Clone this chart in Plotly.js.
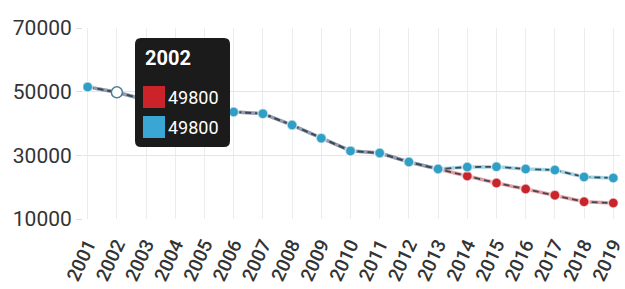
<!DOCTYPE html>
<html>
<head>
<meta charset="utf-8">
<script src="https://cdn.plot.ly/plotly-3.0.1.min.js"></script>
<style>html,body{margin:0;padding:0;background:#fff;overflow:hidden}#chart{width:625px;height:289px}</style>
</head>
<body>
<div id="chart"></div>
<script>
const years = [2001,2002,2003,2004,2005,2006,2007,2008,2009,2010,2011,2012,2013,2014,2015,2016,2017,2018,2019];
const redValues  = [51500,49800,47400,45600,44200,43600,43100,39500,35400,31400,30700,27900,25700,23500,21300,19400,17500,15400,15000];
const blueValues = [51500,49800,47400,45600,44200,43600,43100,39500,35400,31400,30700,27900,25700,26300,26400,25700,25400,23200,22900];
const yTicks = [10000,30000,50000,70000];
const hoverIndex = 1;
const tipTitle = String(years[hoverIndex]);
const tipRed = String(redValues[hoverIndex]);
const tipBlue = String(blueValues[hoverIndex]);

const RED = '#c8242c', BLUE = '#2f9fc6';
const W = 625, H = 289, L = 83, R = 5, T = 28, B = 70;
const pw = W - L - R, ph = H - T - B;
const px = x => (x - L) / pw;
const py = y => 1 - (y - T) / ph;

function seriesTraces(vals, color, name) {
  return [
    {x: years, y: vals, type: 'scatter', mode: 'lines', name: name, hoverinfo: 'skip',
     line: {color: color, width: 3.5}, opacity: 0.45, showlegend: false},
    {x: years, y: vals, type: 'scatter', mode: 'lines+markers', name: name, hoverinfo: 'skip',
     line: {color: '#3d4a52', width: 1.8, dash: '6px,4px'},
     marker: {color: color, size: 10, line: {color: 'rgba(255,255,255,0.6)', width: 1.5}}, showlegend: false}
  ];
}

const data = [
  ...seriesTraces(redValues, RED, 'red'),
  ...seriesTraces(blueValues, BLUE, 'blue'),
  {x: [years[hoverIndex]], y: [blueValues[hoverIndex]], type: 'scatter', mode: 'markers', hoverinfo: 'skip',
   marker: {color: '#ffffff', size: 11, line: {color: '#4a7f90', width: 1.5}}, showlegend: false}
];

const bx0 = 135, bx1 = 230, by0 = 38, by1 = 147, rr = 6;
function roundRectPath(x0, y0, x1, y1, r) {
  const X = v => px(v), Y = v => py(v);
  return `M ${X(x0 + r)} ${Y(y0)} L ${X(x1 - r)} ${Y(y0)} Q ${X(x1)} ${Y(y0)} ${X(x1)} ${Y(y0 + r)} ` +
         `L ${X(x1)} ${Y(y1 - r)} Q ${X(x1)} ${Y(y1)} ${X(x1 - r)} ${Y(y1)} ` +
         `L ${X(x0 + r)} ${Y(y1)} Q ${X(x0)} ${Y(y1)} ${X(x0)} ${Y(y1 - r)} ` +
         `L ${X(x0)} ${Y(y0 + r)} Q ${X(x0)} ${Y(y0)} ${X(x0 + r)} ${Y(y0)} Z`;
}

const layout = {
  width: W, height: H,
  margin: {l: L, r: R, t: T, b: B},
  paper_bgcolor: '#ffffff', plot_bgcolor: '#ffffff',
  font: {family: 'Roboto, sans-serif', color: '#333333'},
  xaxis: {
    range: [2000.84, 2019.23], tickmode: 'array', tickvals: years, ticktext: years.map(String),
    tickangle: -65, tickfont: {size: 19, color: '#333333', weight: 500}, ticklabelstandoff: 10,
    ticklabeloverflow: 'allow',
    showgrid: true, gridcolor: '#ececec', gridwidth: 1, zeroline: false, showline: false,
    ticks: '', fixedrange: true
  },
  yaxis: {
    range: [10000, 70000], tickmode: 'array', tickvals: yTicks, ticktext: yTicks.map(String),
    tickfont: {size: 21, color: '#333333'},
    showgrid: true, gridcolor: '#e6e6e6', gridwidth: 1, zeroline: false, showline: false,
    ticks: 'outside', ticklen: 6, tickcolor: '#dddddd', fixedrange: true
  },
  shapes: [
    {type: 'path', xref: 'paper', yref: 'paper', path: roundRectPath(bx0, by0, bx1, by1, rr),
     fillcolor: '#1b1b1b', line: {width: 0}, layer: 'above'},
    {type: 'rect', xref: 'paper', yref: 'paper', x0: px(143), x1: px(165), y0: py(108), y1: py(86),
     fillcolor: '#cc2229', line: {width: 0}, layer: 'above'},
    {type: 'rect', xref: 'paper', yref: 'paper', x0: px(143), x1: px(165), y0: py(138), y1: py(116),
     fillcolor: '#3aa6d4', line: {width: 0}, layer: 'above'}
  ],
  annotations: [
    {xref: 'paper', yref: 'paper', x: px(143), y: py(58), xanchor: 'left', yanchor: 'middle', showarrow: false,
     text: '<b>' + tipTitle + '</b>', font: {size: 20, color: '#ffffff', family: 'Roboto, sans-serif'}},
    {xref: 'paper', yref: 'paper', x: px(166), y: py(97), xanchor: 'left', yanchor: 'middle', showarrow: false,
     text: tipRed, font: {size: 18, color: '#ffffff', family: 'Roboto, sans-serif'}},
    {xref: 'paper', yref: 'paper', x: px(166), y: py(127), xanchor: 'left', yanchor: 'middle', showarrow: false,
     text: tipBlue, font: {size: 18, color: '#ffffff', family: 'Roboto, sans-serif'}}
  ],
  showlegend: false
};

Plotly.newPlot('chart', data, layout, {displayModeBar: false, staticPlot: true});
</script>
</body>
</html>
